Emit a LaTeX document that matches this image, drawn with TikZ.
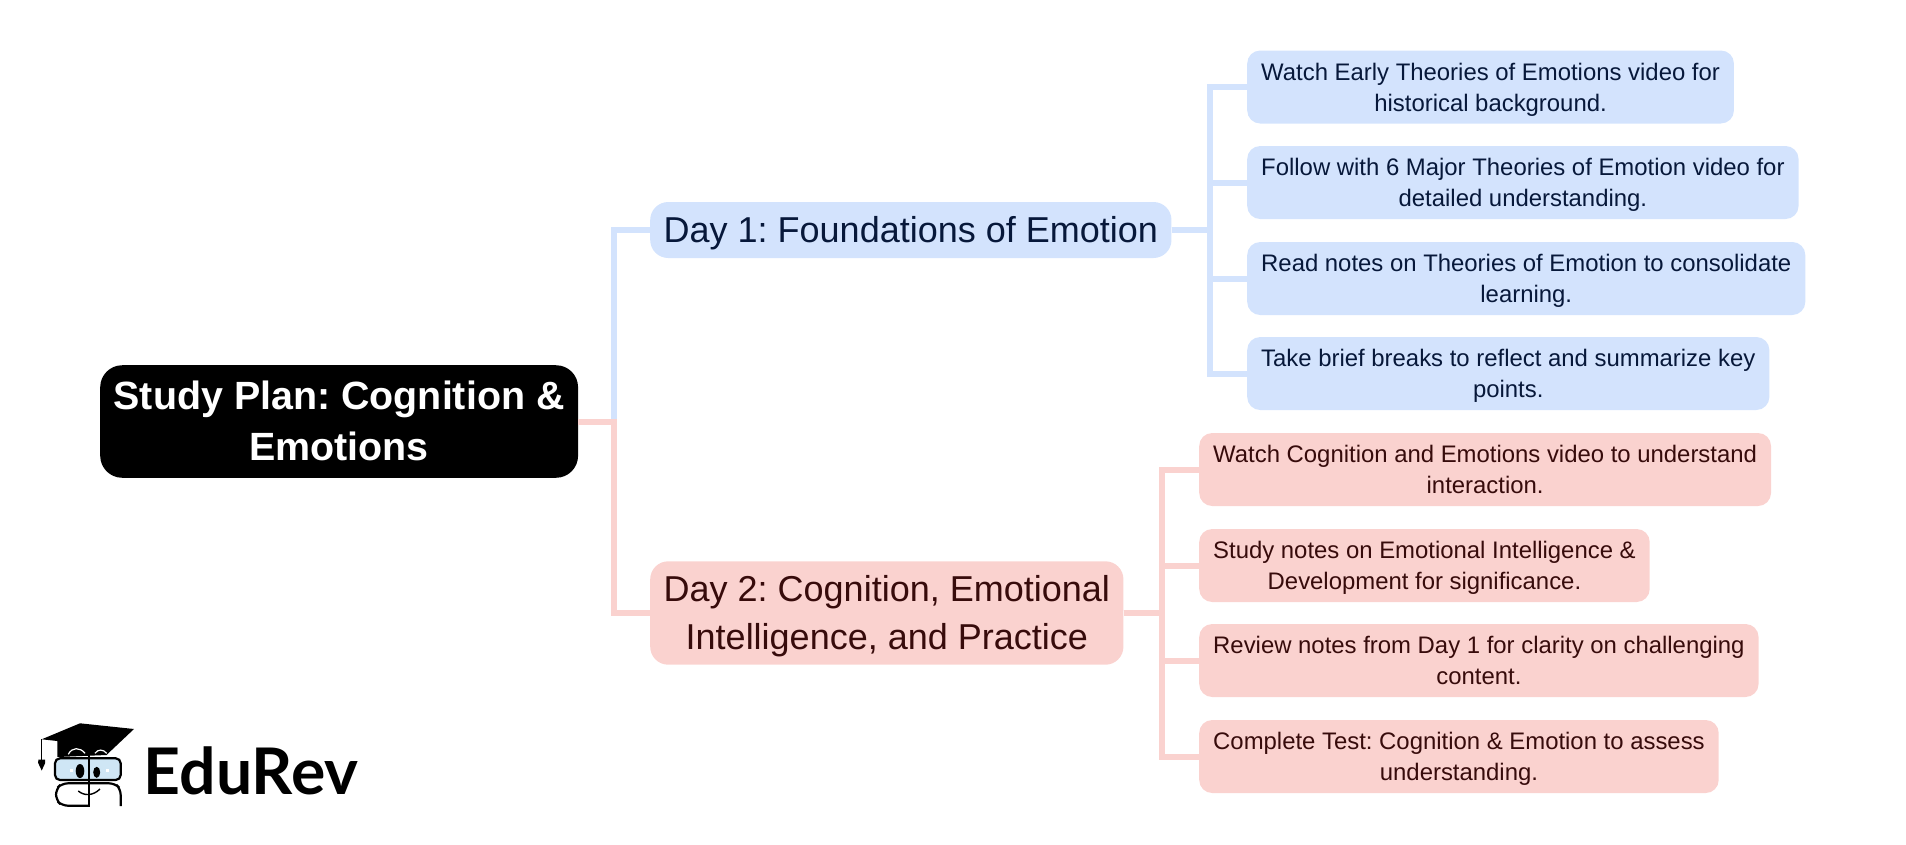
\documentclass[tikz,border=0pt]{standalone}
\usepackage{fontspec}
\setmainfont{Liberation Sans}
\newfontfamily\logofont{Lato}
\definecolor{blueFill}{HTML}{D3E3FD}
\definecolor{blueText}{HTML}{07183A}
\definecolor{redFill}{HTML}{FAD2CF}
\definecolor{redText}{HTML}{370B0B}
\definecolor{lensFill}{HTML}{CFE6F5}
\frenchspacing
\begin{document}
\begin{tikzpicture}[x=1pt,y=-1pt,
  elbow/.style={to path={|- (\tikztotarget)}},
  via/.style={to path={-- (#1) |- (\tikztotarget)}},
  main node/.style={rectangle,rounded corners=22pt,fill=black,text=white,align=center,inner xsep=13.5pt,inner ysep=15.5pt,font=\fontsize{39.4}{51}\selectfont\bfseries,text depth=2pt},
  day node/.style={rectangle,rounded corners=18pt,align=center,inner xsep=13.5pt,inner ysep=7.5pt,font=\fontsize{36}{47.4}\selectfont,text depth=8pt},
  leaf node/.style={rectangle,rounded corners=13pt,align=center,inner xsep=14pt,inner ysep=7pt,font=\fontsize{23.9}{31}\selectfont,text height=53.5pt,text depth=5.5pt},
  blue day/.style={day node,fill=blueFill,text=blueText,text height=33pt},
  red day/.style={day node,fill=redFill,text=redText,text height=80.4pt},
  blue leaf/.style={leaf node,fill=blueFill,text=blueText,anchor=west},
  red leaf/.style={leaf node,fill=redFill,text=redText,anchor=west},
  blue link/.style={draw=blueFill,line width=6pt},
  red link/.style={draw=redFill,line width=6pt}]

  \useasboundingbox (0,0) rectangle (1906,844);

  \node[main node,anchor=west] (root) at (100,421.5) {Study Plan: Cognition \&\\Emotions};
  \node[blue day,anchor=west] (day1) at (650,230) {Day 1: Foundations of Emotion};
  \node[red day,anchor=west] (day2) at (650,613) {Day 2: Cognition, Emotional\\Intelligence, and Practice};

  \node[blue leaf] (b1) at (1247,87) {Watch Early Theories of Emotions video for\\historical background.};
  \node[blue leaf] (b2) at (1247,182.5) {Follow with 6 Major Theories of Emotion video for\\detailed understanding.};
  \node[blue leaf] (b3) at (1247,278.5) {Read notes on Theories of Emotion to consolidate\\learning.};
  \node[blue leaf] (b4) at (1247,373.5) {Take brief breaks to reflect and summarize key\\points.};

  \node[red leaf] (r1) at (1199,469.5) {Watch Cognition and Emotions video to understand\\interaction.};
  \node[red leaf] (r2) at (1199,565.5) {Study notes on Emotional Intelligence \&\\Development for significance.};
  \node[red leaf] (r3) at (1199,660.5) {Review notes from Day 1 for clarity on challenging\\content.};
  \node[red leaf] (r4) at (1199,756.5) {Complete Test: Cognition \& Emotion to assess\\understanding.};

  \coordinate (trunk) at (614,421.5);
  \coordinate (blue hub) at (1210,230);
  \coordinate (red hub) at (1162,613);

  \path[blue link]
     (trunk) edge[elbow] (day1.west)
     (day1.east) edge[via=blue hub] (b1.west)
          edge[via=blue hub] (b2.west)
          edge[via=blue hub] (b3.west)
          edge[via=blue hub] (b4.west);
  \path[red link]
     (root.east) edge[via=trunk] (day2.west)
     (day2.east) edge[via=red hub] (r1.west)
          edge[via=red hub] (r2.west)
          edge[via=red hub] (r3.west)
          edge[via=red hub] (r4.west);

  \node[anchor=base west,inner sep=0pt,font=\logofont\fontsize{64.3}{64.3}\selectfont\bfseries] (brand) at (143.5,794) {EduRev};

  \fill (41.7,739.3) -- (80,723.3) -- (134,729) -- (109.3,752.3) -- (106.7,755) -- (57.3,757) -- (57.3,741) -- cycle;
  \draw[line width=1.2pt] (41.7,739.3) -- (41.7,762);
  \fill (38.3,759.5) -- (45,759.5) -- (45.2,763) -- (41.7,770.5) -- (38.2,763) -- cycle;
  \draw[white,line width=1.2pt] (68.3,754.3) .. controls (72,747) and (80,747) .. (85,753.3);
  \draw[white,line width=1.2pt] (95,753.3) .. controls (98,749) and (103,749) .. (106.7,753.3);
  \draw[fill=lensFill,line width=2.2pt,rounded corners=5pt] (55,758.3) rectangle (120.7,780);
  \draw[line width=2.2pt,rounded corners=6pt] (89,783.3) -- (62,783.3) -- (56,789) -- (56,800) -- (62,805.7) -- (89,805.7);
  \draw[line width=2.2pt,rounded corners=6pt] (89,783.3) -- (115,783.3) -- (120.7,789) -- (120.7,806);
  \draw[line width=2.2pt] (89,751.7) -- (89,806.7);
  \fill (80,771) ellipse (4.3pt and 7pt);
  \fill (96.7,772.3) ellipse (3.5pt and 5.5pt);
  \fill[white] (69.5,769) rectangle (72.5,772);
  \fill[white] (106,769) rectangle (109,772);
  \draw[line width=1.4pt] (78.3,791) .. controls (84,796) and (93,796) .. (100,789);
\end{tikzpicture}
\end{document}
